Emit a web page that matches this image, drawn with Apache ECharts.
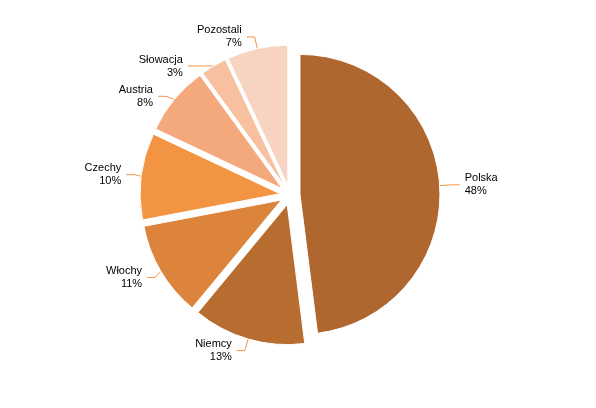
<!DOCTYPE html>
<html><head><meta charset="utf-8">
<script src="https://cdn.jsdelivr.net/npm/echarts@6/dist/echarts.min.js"></script>
<style>html,body{margin:0;padding:0;background:#fff}#c{width:596px;height:408px}</style>
</head><body><div id="c"></div>
<script>
const categories = ['Polska','Niemcy','Włochy','Czechy','Austria','Słowacja','Pozostali'];
const values = [48,13,11,10,8,3,7];
const colors = ['#b0672f','#b86d30','#dc843c','#f39443','#f3a97c','#f7c09e','#f7d3c1'];
const chart = echarts.init(document.getElementById('c'));
chart.setOption({
  animation:false,
  series:[{
    type:'pie', center:[290,195], radius:[0,140], startAngle:90, clockwise:true,
    selectedMode:'multiple', selectedOffset:10,
    data: categories.map((n,i)=>({name:n,value:values[i],selected:true,
      itemStyle:{color:colors[i],borderColor:'#fff',borderWidth:1}})),
    label:{formatter:'{b}\n{c}%', fontSize:11, color:'#000', fontFamily:'Liberation Sans, Arial', lineHeight:13, align:'center'},
    labelLine:{show:true,length:12,length2:8,lineStyle:{color:'#f39443',width:1}}
  }]
});
</script></body></html>
